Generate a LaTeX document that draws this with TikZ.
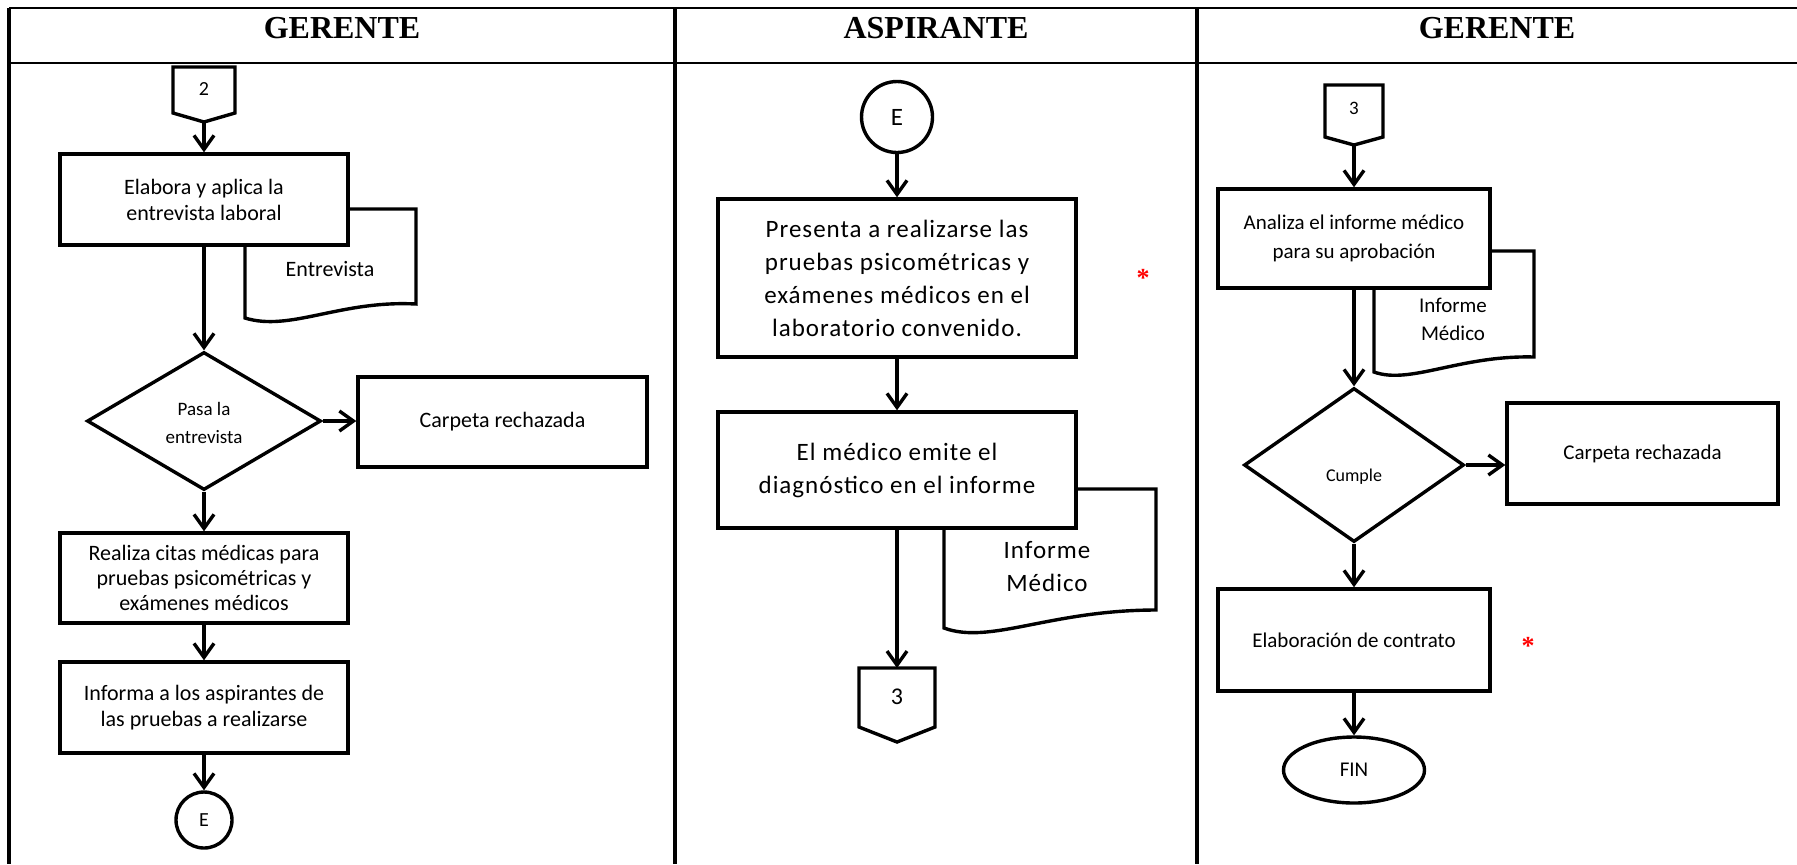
\documentclass[tikz,border=0pt]{standalone}
\usepackage{fontspec}
\setmainfont{Carlito}
\newfontfamily\hdrfont{Liberation Serif}
\newfontfamily\spfont[LetterSpace=4]{Carlito}
\usetikzlibrary{shapes.geometric,arrows.meta}
\tikzset{
  shp/.style={draw,line width=1.7pt,fill=white},
  proc/.style={shp,rectangle,inner sep=0pt,align=center},
  dec/.style={shp,diamond,inner sep=0pt,align=center},
  conn/.style={shp,circle,inner sep=0pt},
  flow/.style={draw,line width=1.7pt,-{Straight Barb[length=7pt,width=10pt]}},
  grid/.style={draw,black},
  txt/.style={inner sep=0pt,align=center},
  hdr/.style={inner sep=0pt,font=\hdrfont\bfseries\fontsize{16pt}{18pt}\selectfont},
  starmark/.style={inner sep=0pt,text=red,font=\hdrfont\bfseries\fontsize{13pt}{15pt}\selectfont},
  fa/.style={font=\fontsize{11pt}{13pt}\selectfont},
  fd/.style={font=\fontsize{9.5pt}{14pt}\selectfont},
  fb/.style={font=\spfont\fontsize{12.5pt}{16.5pt}\selectfont},
  fc/.style={font=\fontsize{10.5pt}{14.5pt}\selectfont}
}
\begin{document}
\begin{tikzpicture}[x=0.5pt,y=-0.5pt]
\useasboundingbox (0,0) rectangle (1797,864);
% table
\draw[grid,line width=1.2pt] (9,8) -- (1797,8);
\draw[grid,line width=0.7pt] (9,63) -- (1797,63);
\draw[grid,line width=1.6pt] (9,8) -- (9,864);
\draw[grid,line width=1.6pt] (675,8) -- (675,864);
\draw[grid,line width=1.6pt] (1197,8) -- (1197,864);
\node[hdr] (h1) at (342,28) {GERENTE};
\node[hdr] (h2) at (936,28) {ASPIRANTE};
\node[hdr] (h3) at (1497,28) {GERENTE};

% ---------- column 1 ----------
\draw[shp] (173,67) -- (235,67) -- (235,113) -- (204,122) -- (173,113) -- cycle;
\node[txt,font=\fontsize{10pt}{12pt}\selectfont] (p2) at (204,89) {2};
\coordinate (p2tip) at (204,122);
\draw[shp] (245,209) -- (416,209) -- (416,304) .. controls (340,300) and (290,332) .. (245,318) -- cycle;
\node[txt,fa] (doc1) at (330,269) {Entrevista};
\node[proc,fa,minimum width=144pt,minimum height=45.5pt] (b1) at (204,199.5) {Elabora y aplica la\\entrevista laboral};
\node[dec,minimum width=117pt,minimum height=69pt] (d1) at (204,421) {};
\node[txt,fd] (d1t) at (204,423) {Pasa la\\entrevista};
\node[proc,fa,minimum width=144.5pt,minimum height=45pt] (r1) at (502.5,422) {Carpeta rechazada};
\node[proc,font=\fontsize{11pt}{12.5pt}\selectfont,minimum width=144pt,minimum height=45pt] (b3) at (204,578) {Realiza citas médicas para\\pruebas psicométricas y\\exámenes médicos};
\node[proc,fa,minimum width=144pt,minimum height=45.5pt] (b4) at (204,707.5) {Informa a los aspirantes de\\las pruebas a realizarse};
\node[conn,minimum size=28pt,font=\fontsize{10pt}{12pt}\selectfont] (e1) at (204,820) {E};
\draw[flow] (p2tip) -- (b1.north);
\draw[flow] (b1.south) -- (d1.north);
\draw[flow] (d1.east) -- (d1.east -| r1.west);
\draw[flow] (d1.south) -- (b3.north);
\draw[flow] (b3.south) -- (b4.north);
\draw[flow] (b4.south) -- (e1.north);

% ---------- column 2 ----------
\node[conn,minimum size=35.5pt,fb] (e2) at (897,117) {E};
\draw[shp] (944,489) -- (1156,489) -- (1156,610) .. controls (1050,610) and (990,645) .. (944,628) -- cycle;
\node[txt,fb] (doc2) at (1047,566) {Informe\\Médico};
\node[proc,fb,minimum width=179pt,minimum height=79pt] (b5) at (897,278) {Presenta a realizarse las\\pruebas psicométricas y\\exámenes médicos en el\\laboratorio convenido.};
\node[proc,fb,minimum width=179pt,minimum height=58pt] (b6) at (897,470) {El médico emite el\\diagnóstico en el informe};
\draw[shp] (859,668) -- (935,668) -- (935,727) -- (897,742) -- (859,727) -- cycle;
\coordinate (p3atop) at (897,668);
\node[txt,font=\fontsize{12pt}{14pt}\selectfont] (p3a) at (897,697) {3};
\node[starmark] (s1) at (1143,278) {*};
\draw[flow] (e2.south) -- (b5.north);
\draw[flow] (b5.south) -- (b6.north);
\draw[flow] (b6.south) -- (p3atop);

% ---------- column 3 ----------
\draw[shp] (1325,85) -- (1383,85) -- (1383,137) -- (1354,145) -- (1325,137) -- cycle;
\node[txt,font=\fontsize{9.5pt}{12pt}\selectfont] (p3b) at (1354,108) {3};
\coordinate (p3btip) at (1354,145);
\draw[shp] (1374,251) -- (1534,251) -- (1534,357) .. controls (1460,355) and (1410,385) .. (1374,372) -- cycle;
\node[txt,font=\fontsize{10.5pt}{14pt}\selectfont] (doc3) at (1453,319) {Informe\\Médico};
\node[proc,fc,minimum width=136pt,minimum height=49.5pt] (b7) at (1354,238.5) {Analiza el informe médico\\para su aprobación};
\node[dec,minimum width=110pt,minimum height=77pt] (d2) at (1354,465) {};
\node[txt,font=\fontsize{9pt}{11pt}\selectfont] (d2t) at (1354,477) {Cumple};
\node[proc,fc,minimum width=135.5pt,minimum height=50.5pt] (r2) at (1642.5,453.5) {Carpeta rechazada};
\node[proc,fc,minimum width=136pt,minimum height=51pt] (b8) at (1354,640) {Elaboración de contrato};
\node[starmark] (s2) at (1528,646) {*};
\node[shp,ellipse,inner sep=0pt,minimum width=70.5pt,minimum height=33pt,fc] (fin) at (1354,770) {FIN};
\draw[flow] (p3btip) -- (b7.north);
\draw[flow] (b7.south) -- (d2.north);
\draw[flow] (d2.east) -- (d2.east -| r2.west);
\draw[flow] (d2.south) -- (b8.north);
\draw[flow] (b8.south) -- (fin.north);
\end{tikzpicture}
\end{document}
